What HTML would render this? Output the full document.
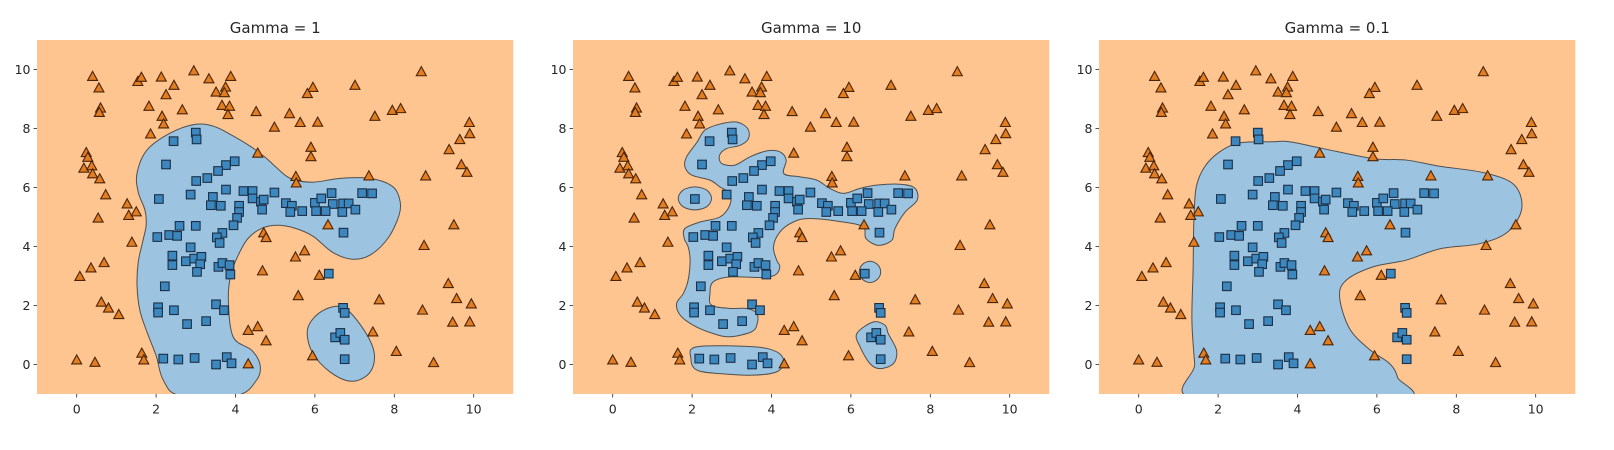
<!DOCTYPE html>
<html>
<head>
<meta charset="utf-8">
<style>
  html, body { margin: 0; padding: 0; background: #ffffff; }
  svg { display: block; }
  text { font-family: "DejaVu Sans", "Liberation Sans", sans-serif; fill: #262626; }
</style>
</head>
<body>
<svg id="fig" width="1614" height="450" viewBox="0 0 1614 450" xmlns="http://www.w3.org/2000/svg"></svg>
<script>
// ---- data: class 1 (triangles) ----
const triX = [0.40,0.56,0.60,0.57,1.54,1.63,2.13,2.45,2.95,2.25,3.33,3.88,3.51,3.75,3.72,1.82,2.15,2.19,2.66,3.66,3.85,3.81,4.52,4.98,1.86,4.56,0.24,0.28,0.18,0.38,0.40,0.58,0.73,1.27,1.31,1.50,0.54,8.68,7.01,5.95,5.81,5.36,5.63,6.07,7.51,7.95,8.16,9.89,9.90,9.65,9.38,9.69,9.83,5.90,5.90,5.52,5.53,7.36,8.79,1.39,0.69,0.36,0.08,0.62,0.80,1.06,0.00,0.46,1.64,1.69,4.71,4.77,4.68,4.32,4.56,4.77,4.32,6.33,5.74,5.51,6.11,5.58,9.50,8.75,7.62,9.36,9.57,9.94,8.71,9.47,9.90,7.46,5.94,8.05,8.99];
const triY = [9.75,9.36,8.68,8.53,9.58,9.72,9.73,9.45,9.94,9.13,9.67,9.75,9.22,9.39,9.20,8.74,8.40,8.14,8.62,8.77,8.74,8.46,8.56,8.03,7.80,7.15,7.17,7.01,6.64,6.72,6.45,6.28,5.74,5.43,5.04,5.16,4.95,9.91,9.45,9.38,9.17,8.49,8.19,8.20,8.40,8.60,8.66,8.19,7.81,7.61,7.27,6.76,6.50,7.35,7.03,6.36,6.14,6.38,6.38,4.13,3.44,3.26,2.97,2.10,1.90,1.68,0.14,0.06,0.37,0.14,4.45,4.29,3.16,1.14,1.27,0.79,0.01,4.72,3.84,3.63,3.01,2.32,4.72,4.02,2.18,2.73,2.22,2.04,1.83,1.42,1.43,1.09,0.28,0.43,0.05];
// ---- data: class 0 (squares) ----
const sqX = [3.00,3.02,2.44,2.25,3.98,3.76,3.56,3.29,3.01,3.76,2.07,2.87,3.43,3.38,3.63,4.09,4.20,4.43,4.43,4.64,4.71,4.67,4.98,4.09,5.27,5.42,5.68,5.38,6.00,6.03,6.16,6.42,6.45,6.27,6.71,6.85,7.02,6.69,7.19,7.44,4.04,3.95,2.59,3.00,2.03,2.33,2.53,3.67,3.53,3.60,2.87,2.41,2.41,2.75,2.96,3.14,3.11,3.03,3.57,3.67,3.85,3.87,2.22,2.05,2.05,2.45,3.51,3.71,2.78,3.26,2.18,2.56,2.97,3.51,3.78,3.90,6.72,6.35,6.71,6.75,6.51,6.64,6.75,6.75];
const sqY = [7.86,7.63,7.57,6.78,6.89,6.76,6.56,6.32,6.22,5.93,5.61,5.76,5.68,5.40,5.38,5.38,5.88,5.88,5.63,5.52,5.59,5.25,5.83,5.17,5.47,5.38,5.20,5.17,5.48,5.20,5.63,5.81,5.44,5.20,5.46,5.46,5.25,5.17,5.81,5.80,4.97,4.72,4.70,4.70,4.32,4.39,4.36,4.46,4.31,4.12,3.97,3.69,3.37,3.50,3.59,3.65,3.40,3.14,3.31,3.44,3.37,3.05,2.65,1.94,1.76,1.84,2.04,1.84,1.37,1.47,0.20,0.17,0.22,0.00,0.25,0.04,4.47,3.08,1.92,1.75,0.92,1.07,0.84,0.18];
// ---- axis ticks ----
const xTicks = [0,2,4,6,8,10];
const yTicks = [0,2,4,6,8,10];
const titles = ["Gamma = 1","Gamma = 10","Gamma = 0.1"];
// ---- decision-region boundaries (data coords) ----
const g1Main = [[2.98,8.14],[2.35,7.84],[1.77,7.27],[1.52,6.49],[1.55,5.84],[1.72,5.23],[1.75,4.72],[1.67,4.21],[1.55,3.47],[1.52,2.68],[1.59,1.84],[1.77,1.10],[2.0,0.3],[2.18,-0.53],[2.6,-1.05],[4.03,-1.05],[4.53,-0.53],[4.62,-0.02],[4.41,0.48],[3.94,0.94],[3.82,2.18],[3.88,3.03],[4.07,3.71],[4.32,4.28],[4.67,4.62],[5.05,4.72],[5.50,4.62],[5.95,4.35],[6.45,3.80],[6.94,3.57],[7.39,3.71],[7.84,4.28],[8.12,5.06],[8.14,5.57],[7.95,6.04],[7.39,6.31],[6.64,6.31],[5.93,6.18],[5.38,6.31],[5.02,6.69],[4.75,7.02],[4.37,7.40],[3.91,7.77],[3.46,8.07]];
const g1Oval = [[6.71,1.94],[6.18,1.81],[5.82,1.23],[5.93,0.42],[6.39,-0.26],[6.94,-0.57],[7.39,-0.26],[7.49,0.42],[7.19,1.26]];
const g10Main = [[1.82,6.70],[1.86,7.04],[2.13,7.55],[2.32,7.94],[2.70,8.15],[3.12,8.22],[3.40,8.00],[3.42,7.66],[3.21,7.43],[2.87,7.32],[2.69,7.09],[2.75,6.81],[3.08,6.76],[3.46,7.04],[3.88,7.24],[4.21,7.21],[4.37,6.93],[4.31,6.47],[4.72,6.36],[5.14,6.25],[5.47,5.97],[5.81,5.80],[6.23,5.97],[6.65,6.08],[7.24,6.11],[7.61,5.98],[7.67,5.57],[7.36,5.16],[7.11,4.61],[7.03,4.21],[6.69,4.04],[6.38,4.27],[6.31,4.66],[5.81,4.83],[4.97,4.95],[4.55,4.83],[4.21,4.49],[4.05,3.99],[4.13,3.54],[4.21,3.31],[4.09,3.03],[3.71,2.95],[2.95,2.97],[2.53,2.80],[2.45,2.41],[2.49,2.01],[2.95,1.90],[3.38,1.90],[3.63,1.73],[3.64,1.39],[3.50,1.11],[2.95,0.94],[2.53,1.05],[2.03,1.33],[1.70,1.67],[1.61,2.07],[1.78,2.41],[1.90,2.86],[1.95,3.54],[1.90,3.99],[1.80,4.28],[1.82,4.61],[2.20,4.83],[2.70,5.00],[2.95,5.40],[2.95,5.80],[2.70,6.02],[2.45,6.25],[1.99,6.42]];
const g10Left = [[1.65,5.63],[1.77,5.91],[2.07,6.02],[2.37,5.91],[2.49,5.63],[2.37,5.35],[2.07,5.24],[1.77,5.35]];
const g10Bottom = [[1.97,0.20],[2.12,0.60],[3.54,0.60],[4.13,0.43],[4.31,0.09],[4.13,-0.25],[3.54,-0.36],[2.70,-0.31],[2.12,-0.19]];
const g10Dot = [[6.21,3.14],[6.29,3.39],[6.48,3.50],[6.67,3.39],[6.75,3.14],[6.67,2.89],[6.48,2.78],[6.29,2.89]];
const g10Right = [[6.56,1.44],[6.15,1.05],[6.23,0.60],[6.48,0.03],[6.73,-0.14],[7.07,0.03],[7.15,0.48],[6.94,1.05],[6.86,1.33]];
const g01Main = [[3.38,7.55],[2.54,7.51],[2.04,7.21],[1.66,6.70],[1.45,6.02],[1.39,4.89],[1.37,3.20],[1.34,1.50],[1.41,0.03],[1.49,-1.2],[6.57,-1.2],[6.52,-0.44],[6.32,0.03],[5.82,0.50],[5.31,1.22],[5.06,2.29],[5.23,2.86],[5.90,3.31],[6.74,3.54],[7.58,3.92],[8.6,4.1],[9.3,4.5],[9.65,5.3],[9.45,6.1],[8.7,6.5],[7.58,6.72],[6.74,6.93],[5.90,6.98],[4.64,7.32],[3.80,7.55]];

const panelLefts = [37, 573, 1099];
const regions = [[g1Main, g1Oval], [g10Main, g10Left, g10Bottom, g10Dot, g10Right], [g01Main]];

// ---- geometry ----
const PLOT_TOP = 40, PW = 476.4, PH = 354;
const X_MIN = -1, X_MAX = 11, Y_MIN = -1, Y_MAX = 11;
function sx(v) { return (v - X_MIN) / (X_MAX - X_MIN) * PW; }
function sy(v) { return (Y_MAX - v) / (Y_MAX - Y_MIN) * PH; }

const NS = "http://www.w3.org/2000/svg";
const svg = document.getElementById("fig");
function mk(tag, attrs, parent) {
  const e = document.createElementNS(NS, tag);
  for (const k in attrs) e.setAttribute(k, attrs[k]);
  parent.appendChild(e);
  return e;
}
function smoothPath(pts) {
  const p = pts.map(q => [sx(q[0]), sy(q[1])]);
  const n = p.length;
  let d = "M" + p[0][0].toFixed(2) + "," + p[0][1].toFixed(2);
  for (let i = 0; i < n; i++) {
    const p0 = p[(i - 1 + n) % n], p1 = p[i], p2 = p[(i + 1) % n], p3 = p[(i + 2) % n];
    const c1 = [p1[0] + (p2[0] - p0[0]) / 6, p1[1] + (p2[1] - p0[1]) / 6];
    const c2 = [p2[0] - (p3[0] - p1[0]) / 6, p2[1] - (p3[1] - p1[1]) / 6];
    d += " C" + c1[0].toFixed(2) + "," + c1[1].toFixed(2) + " " + c2[0].toFixed(2) + "," + c2[1].toFixed(2) + " " + p2[0].toFixed(2) + "," + p2[1].toFixed(2);
  }
  return d + " Z";
}

const defs = mk("defs", {}, svg);
const cp = mk("clipPath", { id: "plotclip" }, defs);
mk("rect", { x: 0, y: 0, width: PW, height: PH }, cp);

panelLefts.forEach((left, pi) => {
  const g = mk("g", { transform: "translate(" + left + "," + PLOT_TOP + ")" }, svg);
  
  

  const title = mk("text", { x: PW / 2, y: -7, "text-anchor": "middle", "font-size": "15" }, g);
  title.textContent = titles[pi];
  
  

  const plot = mk("g", { "clip-path": "url(#plotclip)" }, g);
  
  
  const bg = mk("rect", { x: 0, y: 0, width: PW, height: PH, fill: "#fec591" }, plot);
  
  

  regions[pi].forEach(poly => {
    const path = mk("path", { d: smoothPath(poly), fill: "#9cc3e0", stroke: "#4f4f4f", "stroke-width": "1" }, plot);
    
    
  });

  for (let i = 0; i < sqX.length; i++) {
    const cx = sx(sqX[i]), cy = sy(sqY[i]);
    const s = mk("rect", { x: (cx - 4.3).toFixed(2), y: (cy - 4.3).toFixed(2), width: 8.6, height: 8.6, fill: "#3d87bf", stroke: "#1b2f45", "stroke-width": "1.1" }, plot);
    
    
  }
  for (let i = 0; i < triX.length; i++) {
    const cx = sx(triX[i]), cy = sy(triY[i]);
    const pts = [[cx, cy - 5.5], [cx + 5, cy + 3.6], [cx - 5, cy + 3.6]].map(q => q[0].toFixed(2) + "," + q[1].toFixed(2)).join(" ");
    const t = mk("polygon", { points: pts, fill: "#e27d22", stroke: "#4a2406", "stroke-width": "1.1" }, plot);
    
    
  }

  xTicks.forEach(v => {
    const x = sx(v);
    const tk = mk("line", { x1: x, x2: x, y1: PH, y2: PH + 3.5, stroke: "#262626", "stroke-width": "0.8" }, g);
    
    
    const lb = mk("text", { x: x, y: PH + 19.5, "text-anchor": "middle", "font-size": "12.5" }, g);
    lb.textContent = v;
    
    
  });
  yTicks.forEach(v => {
    const y = sy(v);
    const tk = mk("line", { x1: -3.5, x2: 0, y1: y, y2: y, stroke: "#262626", "stroke-width": "0.8" }, g);
    
    
    const lb = mk("text", { x: -6.5, y: y + 4.5, "text-anchor": "end", "font-size": "12.5" }, g);
    lb.textContent = v;
    
    
  });
});
</script>
</body>
</html>
